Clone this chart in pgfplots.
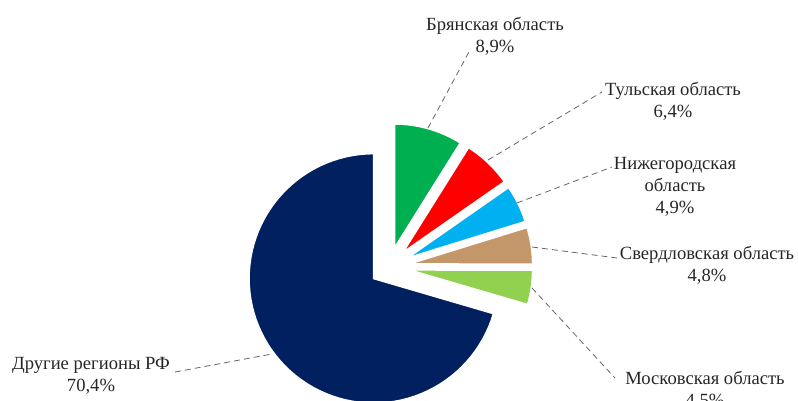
\documentclass[border=0pt]{standalone}
\usepackage{pgfplots}
\pgfplotsset{compat=1.18}
\usepackage{fontspec}
\setmainfont{Liberation Serif}

\definecolor{cOther}{HTML}{002060}
\definecolor{cBry}{HTML}{00B050}
\definecolor{cTul}{HTML}{FF0000}
\definecolor{cNiz}{HTML}{00B0F0}
\definecolor{cSve}{HTML}{C4976A}
\definecolor{cMos}{HTML}{92D050}

% pie geometry in image pixels (y measured upwards)
\def\cx{389}\def\cy{134}\def\rr{125}\def\dd{19}\def\tot{99.9}

% \slice{cumulative start %}{cumulative end %}{colour}
\newcommand\slice[3]{%
  \pgfmathsetmacro\aS{90-(360/\tot)*#2}%
  \pgfmathsetmacro\aE{90-(360/\tot)*#1}%
  \pgfmathsetmacro\aM{(\aS+\aE)/2}%
  \pgfmathsetmacro\px{\cx+\dd*cos(\aM)}%
  \pgfmathsetmacro\py{\cy+\dd*sin(\aM)}%
  \edef\temp{\noexpand\addplot[fill=#3, draw=white, line width=1pt,
      domain=\aS:\aE, samples=80, variable=\noexpand\t]
    ({\px+\rr*cos(\noexpand\t)},{\py+\rr*sin(\noexpand\t)})
    -- (axis cs:\px,\py) -- cycle;}%
  \temp
}

\tikzset{lbl/.style={font=\fontsize{9.3}{11}\selectfont, align=center, text=black!85, inner sep=0pt}}

\begin{document}
\begin{tikzpicture}
\useasboundingbox (0,0) rectangle (399pt,200.5pt);
\clip (0,0) rectangle (399pt,200.5pt);
\begin{axis}[
  x=0.5pt, y=0.5pt,
  xmin=0, xmax=798, ymin=0, ymax=401,
  hide axis, clip=false,
]
  % shares, %: Bryansk 8.9, Tula 6.4, Nizhny 4.9, Sverdlovsk 4.8, Moscow 4.5, other 70.4
  \slice{0}{8.9}{cBry}
  \slice{8.9}{15.3}{cTul}
  \slice{15.3}{20.2}{cNiz}
  \slice{20.2}{25.0}{cSve}
  \slice{25.0}{29.5}{cMos}
  \slice{29.5}{99.9}{cOther}

  % leader lines
  \addplot[densely dashed, gray!80!black, thin] coordinates {(428,273) (470,351)};
  \addplot[densely dashed, gray!80!black, thin] coordinates {(488,241) (602,309)};
  \addplot[densely dashed, gray!80!black, thin] coordinates {(517,198) (612,234)};
  \addplot[densely dashed, gray!80!black, thin] coordinates {(532,154) (617,143)};
  \addplot[densely dashed, gray!80!black, thin] coordinates {(532,113) (615,23)};
  \addplot[densely dashed, gray!80!black, thin] coordinates {(175,29) (272,47)};

  \node[lbl] at (axis cs:495,365) {Брянская область\\8,9\%};
  \node[lbl] at (axis cs:673,300) {Тульская область\\6,4\%};
  \node[lbl] at (axis cs:675,214) {Нижегородская\\область\\4,9\%};
  \node[lbl] at (axis cs:707,136) {Свердловская область\\4,8\%};
  \node[lbl] at (axis cs:705,11) {Московская область\\4,5\%};
  \node[lbl] at (axis cs:91,25) {Другие регионы РФ\\70,4\%};
\end{axis}
\end{tikzpicture}
\end{document}
